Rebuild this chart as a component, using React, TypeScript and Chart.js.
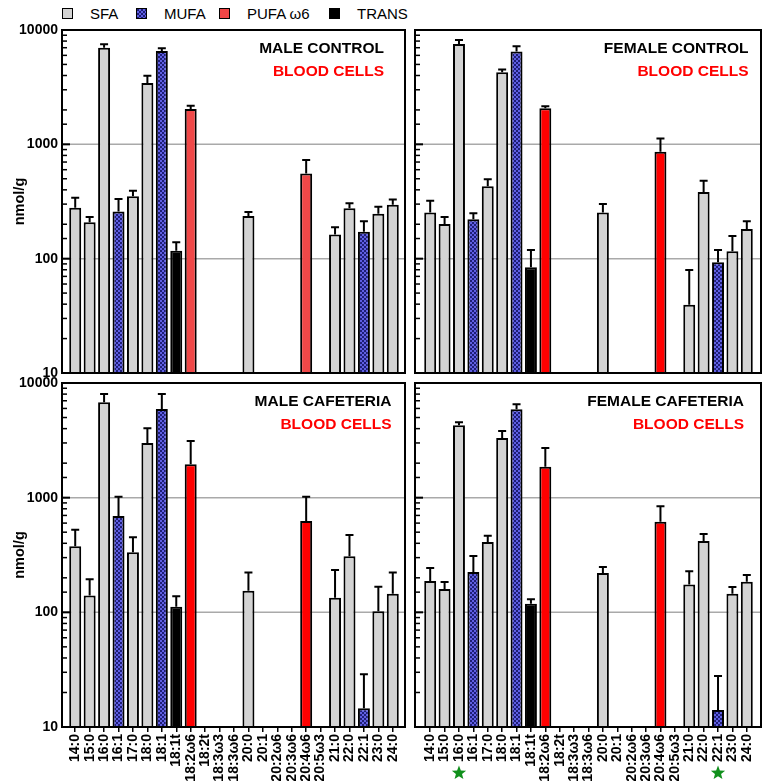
import React, { useEffect, useRef } from 'react';
import { Chart, registerables } from 'chart.js';

Chart.register(...registerables);

const FONT = "'Liberation Sans', Arial, Helvetica, sans-serif";

const categories = ['14:0', '15:0', '16:0', '16:1', '17:0', '18:0', '18:1', '18:1t', '18:2ω6', '18:2t', '18:3ω3', '18:3ω6', '20:0', '20:1', '20:2ω6', '20:3ω6', '20:4ω6', '20:5ω3', '21:0', '22:0', '22:1', '23:0', '24:0'];
const fattyClass = ['SFA', 'SFA', 'SFA', 'MUFA', 'SFA', 'SFA', 'MUFA', 'TRANS', 'PUFA', 'TRANS', 'PUFA', 'PUFA', 'SFA', 'MUFA', 'PUFA', 'PUFA', 'PUFA', 'PUFA', 'SFA', 'SFA', 'MUFA', 'SFA', 'SFA'];
const classKeys = ['SFA', 'MUFA', 'PUFA', 'TRANS'];
const seriesNames = ['SFA', 'MUFA', 'PUFA ω6', 'TRANS'];

const maleControl = [279, 208, 7000, 258, 351, 3440, 6550, 117, 2037, null, null, null, 236, null, null, null, 557, null, 163, 276, 172, 247, 296];
const maleControlErr = [62, 23, 500, 75, 42, 545, 365, 22, 141, null, null, null, 20, null, null, null, 172, null, 25, 29, 40, 38, 34];
const femaleControl = [254, 201, 7540, 221, 430, 4270, 6470, 84, 2065, null, null, null, 254, null, null, null, 863, null, 39.6, 383, 93, 116, 182];
const femaleControlErr = [67, 30, 630, 28, 64, 234, 725, 35, 83, null, null, null, 47, null, null, null, 259, null, 40, 98, 26, 42, 30];
const maleCafeteria = [377, 140, 6790, 692, 334, 3000, 5935, 112, 1954, null, null, null, 154, null, null, null, 626, null, 134, 308, 14.6, 102, 145];
const maleCafeteriaErr = [149, 54, 1230, 328, 117, 1027, 2085, 26, 1166, null, null, null, 68, null, null, null, 394, null, 100, 164, 14.2, 65, 77];
const femaleCafeteria = [188, 160, 4275, 225, 410, 3311, 5893, 119, 1862, null, null, null, 220, null, null, null, 618, null, 175, 419, 14.1, 145, 185];
const femaleCafeteriaErr = [56, 24, 265, 85, 56, 503, 623, 11, 849, null, null, null, 28, null, null, null, 222, null, 53, 63, 13.8, 21, 27];

const yTickValues = [10, 100, 1000, 10000];
const gridValues = [100, 1000];
const significantFemaleCafeteria = ['16:0', '22:1'];

type PanelCfg = {
  title: string;
  values: (number | null)[];
  errors: (number | null)[];
  row: number;
  col: number;
  pufaColor: string;
  titleInset: number;
  stars: string[];
};

const panels: PanelCfg[] = [
  { title: 'MALE CONTROL', values: maleControl, errors: maleControlErr, row: 0, col: 0, pufaColor: '#f04848', titleInset: 21, stars: [] },
  { title: 'FEMALE CONTROL', values: femaleControl, errors: femaleControlErr, row: 0, col: 1, pufaColor: '#ff0000', titleInset: 12.5, stars: [] },
  { title: 'MALE CAFETERIA', values: maleCafeteria, errors: maleCafeteriaErr, row: 1, col: 0, pufaColor: '#ff0000', titleInset: 13.5, stars: [] },
  { title: 'FEMALE CAFETERIA', values: femaleCafeteria, errors: femaleCafeteriaErr, row: 1, col: 1, pufaColor: '#ff0000', titleInset: 17, stars: significantFemaleCafeteria },
];

const colGeom = [
  { padL: 0, yW: 68, padR: 362, insetL: 6, insetR: 5 },
  { padL: 405, yW: 18, padR: 8, insetL: 8, insetR: 7 },
];
const rowGeom = [
  { padT: 30, padB: 408 },
  { padT: 383, padB: 0 },
];

function makePattern(): CanvasPattern | string {
  const c = document.createElement('canvas');
  c.width = 4;
  c.height = 4;
  const x = c.getContext('2d');
  if (!x) return '#3b3bb0';
  x.fillStyle = '#1e1e76';
  x.fillRect(0, 0, 4, 4);
  x.fillStyle = '#5f5fe2';
  x.fillRect(0, 0, 2, 2);
  x.fillRect(2, 2, 2, 2);
  return x.createPattern(c, 'repeat') || '#3b3bb0';
}

function drawStar(ctx: CanvasRenderingContext2D, cx: number, cy: number, ro: number, ri: number) {
  ctx.beginPath();
  for (let k = 0; k < 10; k++) {
    const r = k % 2 === 0 ? ro : ri;
    const a = -Math.PI / 2 + (k * Math.PI) / 5;
    const px = cx + r * Math.cos(a);
    const py = cy + r * Math.sin(a);
    if (k === 0) ctx.moveTo(px, py);
    else ctx.lineTo(px, py);
  }
  ctx.closePath();
  ctx.fill();
}

const panelPlugin = {
  id: 'panelDecor',
  beforeDatasetsDraw(chart: any, _args: any, opts: any) {
    const { ctx, chartArea } = chart;
    const y = chart.scales.y;
    const fl = chartArea.left - opts.insetL;
    const fr = chartArea.right + opts.insetR;
    ctx.save();
    ctx.strokeStyle = '#a9a9a9';
    ctx.lineWidth = 1.5;
    gridValues.forEach((v) => {
      const py = y.getPixelForValue(v);
      ctx.beginPath();
      ctx.moveTo(fl, py);
      ctx.lineTo(fr, py);
      ctx.stroke();
    });
    ctx.restore();
  },
  afterDatasetsDraw(chart: any, _args: any, opts: any) {
    const { ctx, chartArea } = chart;
    const y = chart.scales.y;
    const x = chart.scales.x;
    const fl = chartArea.left - opts.insetL;
    const fr = chartArea.right + opts.insetR;
    ctx.save();
    // error bars
    ctx.strokeStyle = '#000';
    ctx.lineWidth = 2;
    chart.data.datasets.forEach((ds: any, di: number) => {
      const meta = chart.getDatasetMeta(di);
      meta.data.forEach((bar: any, i: number) => {
        const v = ds.data[i];
        const e = ds.errors ? ds.errors[i] : null;
        if (v == null || e == null) return;
        const yTop = y.getPixelForValue(v + e);
        ctx.beginPath();
        ctx.moveTo(bar.x, bar.y);
        ctx.lineTo(bar.x, yTop);
        ctx.moveTo(bar.x - 4, yTop);
        ctx.lineTo(bar.x + 4, yTop);
        ctx.stroke();
      });
    });
    // inward ticks on the y axis
    y.ticks.forEach((t: any) => {
      const v = t.value;
      if (v <= 10 || v >= 10000) return;
      const lg = Math.log10(v);
      const major = Math.abs(lg - Math.round(lg)) < 1e-9;
      const py = y.getPixelForValue(v);
      ctx.lineWidth = major ? 2 : 1.5;
      ctx.beginPath();
      ctx.moveTo(fl, py);
      ctx.lineTo(fl + (major ? 8 : 5), py);
      ctx.stroke();
    });
    // frame
    ctx.lineWidth = 2;
    ctx.strokeRect(fl, chartArea.top, fr - fl, chartArea.bottom - chartArea.top);
    // titles
    ctx.font = `bold 15.5px ${FONT}`;
    ctx.textAlign = 'right';
    ctx.textBaseline = 'middle';
    ctx.fillStyle = '#000';
    ctx.fillText(opts.title, fr - opts.titleInset, chartArea.top + 18.5);
    ctx.fillStyle = '#ff0000';
    ctx.fillText('BLOOD CELLS', fr - opts.titleInset, chartArea.top + 42);
    // significance stars
    ctx.fillStyle = '#10901c';
    (opts.stars || []).forEach((c: string) => {
      const idx = categories.indexOf(c);
      if (idx < 0) return;
      drawStar(ctx, x.getPixelForValue(idx), chart.height - 8, 7.5, 3.2);
    });
    ctx.restore();
  },
};

function Panel({ cfg }: { cfg: PanelCfg }) {
  const ref = useRef<HTMLCanvasElement>(null);
  useEffect(() => {
    if (!ref.current) return;
    const pattern = makePattern();
    const colors: Record<string, any> = { SFA: '#d3d3d3', MUFA: pattern, PUFA: cfg.pufaColor, TRANS: '#000000' };
    const cg = colGeom[cfg.col];
    const rg = rowGeom[cfg.row];
    const showX = cfg.row === 1;
    const datasets = classKeys.map((k, j) => ({
      label: seriesNames[j],
      data: cfg.values.map((v, i) => (fattyClass[i] === k ? v : null)),
      errors: cfg.errors.map((e, i) => (fattyClass[i] === k ? e : null)),
      backgroundColor: colors[k],
      borderColor: '#000000',
      borderWidth: 2,
      grouped: false,
      categoryPercentage: 1,
      barPercentage: 0.83,
    }));
    const tickFont = { family: FONT, size: 14, weight: 'bold' as const };
    const chart = new Chart(ref.current, {
      type: 'bar',
      data: { labels: categories, datasets: datasets as any },
      options: {
        animation: false,
        responsive: false,
        events: [],
        layout: { padding: { left: cg.padL, right: cg.padR, top: rg.padT, bottom: rg.padB } },
        plugins: {
          legend: { display: false },
          tooltip: { enabled: false },
          panelDecor: { insetL: cg.insetL, insetR: cg.insetR, title: cfg.title, titleInset: cfg.titleInset, stars: cfg.stars },
        } as any,
        scales: {
          x: {
            display: showX,
            offset: true,
            grid: { display: true, drawOnChartArea: false, drawTicks: true, tickLength: 5, color: '#000', lineWidth: 1.5, offset: false },
            border: { display: false },
            ticks: { autoSkip: false, maxRotation: 90, minRotation: 90, padding: 2, color: '#000', font: tickFont },
            afterFit: (s: any) => {
              s.height = showX ? 54 : 0;
              s.paddingLeft = 0;
              s.paddingRight = 0;
            },
          },
          y: {
            type: 'logarithmic',
            min: 10,
            max: 10000,
            grid: { display: false, drawTicks: false },
            border: { display: false },
            ticks: {
              display: cfg.col === 0,
              autoSkip: false,
              padding: 10,
              color: '#000',
              font: tickFont,
              callback: (v: any) => (yTickValues.includes(Number(v)) ? String(v) : ''),
            },
            title: {
              display: cfg.col === 0,
              text: 'nmol/g',
              color: '#000',
              font: { family: FONT, size: 14.5, weight: 'bold' },
              padding: { top: 11, bottom: 0 },
            },
            afterFit: (s: any) => {
              s.width = cg.yW;
              s.paddingTop = 0;
              s.paddingBottom = 0;
            },
          },
        },
      },
      plugins: [panelPlugin],
    });
    return () => chart.destroy();
  }, [cfg]);
  return <canvas ref={ref} width={762} height={781} style={{ position: 'absolute', left: 0, top: 0 }} />;
}

const legendLefts = [62, 136, 219, 329];
const legendSwatches = [
  { background: '#d3d3d3' },
  { background: 'repeating-conic-gradient(#5f5fe2 0% 25%, #1e1e76 0% 50%) 0 0 / 4px 4px' },
  { background: '#f04545' },
  { background: '#000000' },
];

function Legend() {
  return (
    <>
      {seriesNames.map((n, i) => (
        <div
          key={n}
          style={{
            position: 'absolute',
            left: legendLefts[i],
            top: 4,
            height: 18,
            display: 'flex',
            alignItems: 'center',
            fontFamily: FONT,
            fontSize: 15,
            color: '#000',
            whiteSpace: 'nowrap',
          }}
        >
          <span
            style={{
              display: 'inline-block',
              width: 9,
              height: 9,
              border: '1.5px solid #000',
              marginRight: 17,
              ...legendSwatches[i],
            }}
          />
          <span>{n}</span>
        </div>
      ))}
    </>
  );
}

export default function App() {
  return (
    <div style={{ position: 'absolute', left: 0, top: 0, width: 762, height: 781, background: '#fff', overflow: 'hidden' }}>
      <Legend />
      {panels.map((p) => (
        <Panel key={p.title} cfg={p} />
      ))}
    </div>
  );
}
